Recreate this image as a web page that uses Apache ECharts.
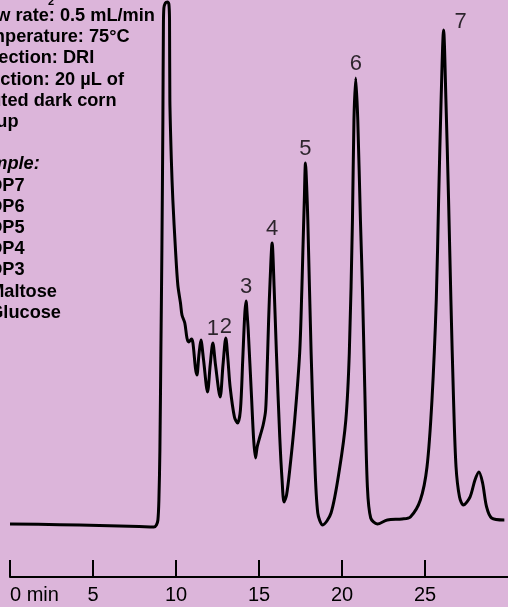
<!DOCTYPE html>
<html>
<head>
<meta charset="utf-8">
<script src="https://cdn.jsdelivr.net/npm/echarts@6/dist/echarts.min.js"></script>
<style>
  html, body { margin: 0; padding: 0; background: #dcb5da; }
  #chart { width: 508px; height: 607px; }
</style>
</head>
<body>
<div id="chart"></div>
<script>
// Chromatogram trace: retention time (min) and detector response (relative units)
const retentionTime = [
  0, 2.99, 5.38, 7.78, 8.67, 8.82, 8.91, 8.97, 9.03, 9.09, 9.15, 9.21, 9.24, 9.27,
  9.36, 9.48, 9.57, 9.61, 9.63, 9.72, 9.81, 9.97, 10.11, 10.27, 10.36, 10.53, 10.66,
  10.77, 10.93, 11.02, 11.17, 11.26, 11.38, 11.50, 11.66, 11.90, 12.06, 12.22, 12.38,
  12.66, 12.83, 13.00, 13.13, 13.26, 13.52, 13.71, 13.88, 14.02, 14.14, 14.22, 14.29,
  14.35, 14.55, 14.68, 14.79, 14.89, 15.05, 15.25, 15.40, 15.49, 15.58, 15.67, 15.79,
  15.91, 16.05, 16.25, 16.39, 16.51, 16.66, 16.85, 17.15, 17.45, 17.58, 17.64, 17.73,
  17.80, 17.88, 17.94, 18.14, 18.34, 18.54, 18.84, 19.34, 19.84, 20.23, 20.44, 20.63,
  20.72, 20.83, 20.95, 21.11, 21.23, 21.37, 21.53, 21.73, 22.13, 22.73, 23.62, 24.12,
  24.72, 25.12, 25.42, 25.68, 25.82, 25.97, 26.12, 26.26, 26.42, 26.56, 26.72, 26.87,
  27.08, 27.31, 27.71, 28.01, 28.25, 28.47, 28.71, 29.01, 29.78
];
const detectorSignal = [
  0.57, 0.44, 0.28, 0.09, 0, 0.38, 1.33, 5.12, 14.61, 33.59, 52.56, 77.23, 94.31, 98.48,
  99.43, 99.62, 99.24, 96.20, 81.02, 69.64, 62.05, 52.56, 45.92, 42.50, 40.23, 38.71, 35.86,
  35.10, 35.67, 34.91, 30.17, 28.84, 32.64, 35.48, 31.69, 25.62, 30.74, 34.91, 30.74,
  24.67, 30.74, 35.86, 31.69, 26.57, 20.87, 19.73, 22.20, 31.69, 40.23, 42.88, 40.23,
  37.38, 24.67, 16.51, 13.09, 15.18, 17.08, 19.35, 22.20, 29.79, 39.28, 46.87, 53.89,
  45.54, 33.02, 17.08, 8.92, 4.74, 6.07, 10.82, 20.30, 33.02, 44.97, 51.99, 62.05,
  69.07, 63.95, 58.25, 33.02, 14.04, 2.66, 0.38, 2.66, 10.82, 20.30, 33.02, 58.25,
  77.23, 85.20, 77.23, 58.25, 45.54, 26.57, 7.59, 1.71, 0.57, 1.33, 1.52, 1.90,
  5.12, 11.39, 24.10, 43.07, 62.05, 81.02, 94.31, 81.02, 62.05, 43.07, 24.10, 11.39,
  5.69, 4.17, 5.69, 8.92, 10.44, 8.35, 3.80, 1.71, 1.33
];

// Numbered peaks (apex time and response)
const peakNames = ['1', '2', '3', '4', '5', '6', '7'];
const peakTimes = [12.22, 13.00, 14.22, 15.79, 17.80, 20.83, 26.12];
const peakHeights = [34.91, 35.86, 42.88, 53.89, 69.07, 85.20, 94.31];

// Time axis
const timeMin = 0;
const timeMax = 30;
const timeStep = 5;

// Run conditions and peak identities
const conditionLines = [
  'Flow rate: 0.5 mL/min',
  'Temperature: 75°C',
  'Detection: DRI',
  'Injection: 20 µL of',
  'diluted dark corn',
  'syrup',
  '',
  'Sample:',
  '1. DP7',
  '2. DP6',
  '3. DP5',
  '4. DP4',
  '5. DP3',
  '6. Maltose',
  '7. Glucose'
];

const FONT = '"Liberation Sans", Arial, Helvetica, sans-serif';

const chart = echarts.init(document.getElementById('chart'), null, { renderer: 'canvas' });

const trace = retentionTime.map((t, i) => [t, detectorSignal[i]]);
const peaks = peakNames.map((n, i) => ({
  name: n,
  value: [peakTimes[i], peakHeights[i]],
  label: n === '7' ? { offset: [17, 6] } : (n === '2' ? { offset: [0, 3] } : (n === '1' ? { offset: [0, 0] } : {}))
}));

const notes = conditionLines.map((line, i) => ({
  type: 'text',
  left: -31,
  top: 21 + i * 21.2 - 14,
  silent: true,
  style: {
    text: line,
    fill: '#000',
    font: (line === 'Sample:' ? 'italic bold ' : 'bold ') + '18.2px ' + FONT
  }
}));
notes.push({
  type: 'text',
  left: 48,
  top: -4,
  silent: true,
  style: { text: '2', fill: '#000', font: 'bold 11px ' + FONT }
});

chart.setOption({
  backgroundColor: '#dcb5da',
  animation: false,
  grid: { left: 10, right: -3.6, top: 0, bottom: 80, containLabel: false },
  xAxis: {
    type: 'value',
    min: timeMin,
    max: timeMax,
    interval: timeStep,
    offset: 50,
    axisLine: { show: true, onZero: false, lineStyle: { color: '#000', width: 2 } },
    axisTick: { show: true, inside: true, length: 17, lineStyle: { color: '#000', width: 2 } },
    splitLine: { show: false },
    axisLabel: {
      margin: 8,
      color: '#000',
      fontSize: 20,
      fontFamily: FONT,
      showMaxLabel: false,
      alignMinLabel: 'left',
      formatter: v => (v === 0 ? '0 min' : String(v))
    }
  },
  yAxis: {
    type: 'value',
    min: 0,
    max: 100,
    show: false
  },
  graphic: notes,
  series: [
    {
      type: 'line',
      data: trace,
      showSymbol: false,
      smooth: 0.3,
      clip: false,
      lineStyle: { color: '#000', width: 3 },
      silent: true
    },
    {
      type: 'scatter',
      data: peaks,
      symbolSize: 0,
      silent: true,
      label: {
        show: true,
        position: 'top',
        distance: 3,
        formatter: p => p.name,
        color: '#000',
        fontSize: 22,
        fontFamily: FONT
      }
    }
  ]
});
</script>
</body>
</html>
